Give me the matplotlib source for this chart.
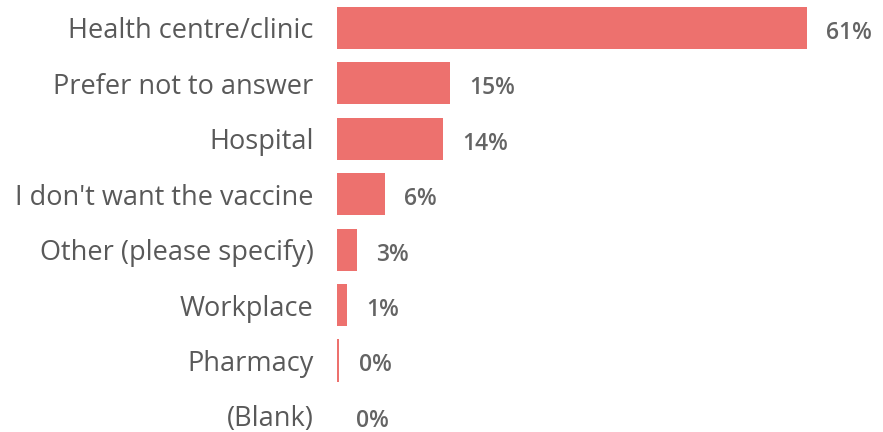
import matplotlib.pyplot as plt

# survey answers
categories = ['Health centre/clinic', 'Prefer not to answer', 'Hospital',
              "I don't want the vaccine", 'Other (please specify)', 'Workplace',
              'Pharmacy', '(Blank)']
values = [61.0, 14.7, 13.8, 6.2, 2.6, 1.3, 0.3, 0.0]
labels = ['61%', '15%', '14%', '6%', '3%', '1%', '0%', '0%']

plt.rcParams['font.family'] = ['Open Sans', 'DejaVu Sans']

fig = plt.figure(figsize=(8.83, 4.32), dpi=100)
ax = fig.add_axes([337 / 883, 0, 1 - 337 / 883, 1])

pos = list(range(len(categories)))
ax.barh(pos, values, height=0.76, color='#ED716E')

for y, v, lab in zip(pos, values, labels):
    ax.annotate(lab, (v, y), xytext=(14, -3.5), textcoords='offset points',
                ha='left', va='center', fontsize=16.5, color='#646464',
                fontweight='semibold', annotation_clip=False)

ax.set_yticks(pos)
ax.set_yticklabels(categories, fontsize=19.5, color='#595959')
ax.tick_params(axis='y', length=0, pad=17)
ax.set_xticks([])
ax.set_xlim(0, 70.9)
ax.set_ylim(7.29, -0.505)
for s in ax.spines.values():
    s.set_visible(False)

fig.savefig('out.png', dpi=100)
